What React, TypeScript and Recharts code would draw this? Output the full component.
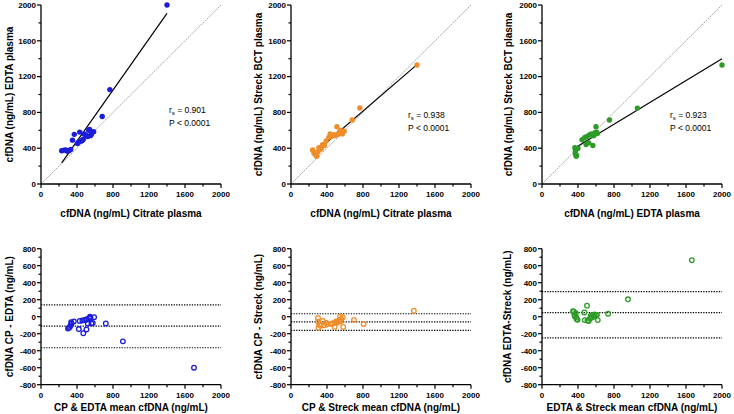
import React from 'react'
import { ScatterChart, Scatter, XAxis, YAxis, ReferenceLine } from 'recharts'

// top row: paired cfDNA concentrations (ng/mL)
const citrateVsEdta = [
  { x: 230, y: 372 }, { x: 255, y: 378 }, { x: 275, y: 380 }, { x: 295, y: 365 },
  { x: 310, y: 372 }, { x: 330, y: 385 }, { x: 350, y: 490 }, { x: 370, y: 555 },
  { x: 405, y: 452 }, { x: 420, y: 470 }, { x: 430, y: 580 }, { x: 450, y: 480 },
  { x: 460, y: 490 }, { x: 470, y: 500 }, { x: 480, y: 560 }, { x: 500, y: 545 },
  { x: 520, y: 530 }, { x: 530, y: 600 }, { x: 540, y: 610 }, { x: 550, y: 540 },
  { x: 560, y: 555 }, { x: 585, y: 585 }, { x: 680, y: 755 }, { x: 765, y: 1055 },
  { x: 1400, y: 2000 },
]
const citrateVsStreck = [
  { x: 240, y: 380 }, { x: 255, y: 345 }, { x: 270, y: 330 }, { x: 285, y: 310 },
  { x: 300, y: 360 }, { x: 310, y: 405 }, { x: 335, y: 390 }, { x: 350, y: 440 },
  { x: 370, y: 430 }, { x: 390, y: 480 }, { x: 420, y: 520 }, { x: 435, y: 560 },
  { x: 450, y: 530 }, { x: 470, y: 545 }, { x: 480, y: 550 }, { x: 490, y: 540 },
  { x: 510, y: 640 }, { x: 520, y: 555 }, { x: 535, y: 575 }, { x: 550, y: 600 },
  { x: 570, y: 560 }, { x: 590, y: 590 }, { x: 680, y: 715 }, { x: 765, y: 850 },
  { x: 1400, y: 1330 },
]
const edtaVsStreck = [
  { x: 365, y: 405 }, { x: 370, y: 360 }, { x: 372, y: 335 }, { x: 375, y: 385 },
  { x: 380, y: 310 }, { x: 385, y: 320 }, { x: 390, y: 395 }, { x: 400, y: 400 },
  { x: 445, y: 495 }, { x: 475, y: 520 }, { x: 490, y: 440 }, { x: 500, y: 530 },
  { x: 520, y: 460 }, { x: 530, y: 550 }, { x: 548, y: 560 }, { x: 560, y: 545 },
  { x: 565, y: 430 }, { x: 575, y: 540 }, { x: 585, y: 570 }, { x: 600, y: 640 },
  { x: 605, y: 580 }, { x: 615, y: 565 }, { x: 750, y: 715 }, { x: 1060, y: 848 },
  { x: 2000, y: 1330 },
]

// bottom row: Bland-Altman, mean vs difference
const baCpEdta = [
  { x: 300, y: -140 }, { x: 310, y: -130 }, { x: 320, y: -120 }, { x: 330, y: -100 },
  { x: 340, y: -80 }, { x: 335, y: -65 }, { x: 365, y: -55 }, { x: 420, y: -145 },
  { x: 430, y: -50 }, { x: 460, y: -45 }, { x: 470, y: -195 }, { x: 480, y: -40 },
  { x: 500, y: -35 }, { x: 505, y: -150 }, { x: 510, y: -30 }, { x: 520, y: -80 },
  { x: 535, y: -20 }, { x: 545, y: 0 }, { x: 550, y: -10 }, { x: 560, y: -80 },
  { x: 575, y: -75 }, { x: 590, y: -5 }, { x: 720, y: -80 }, { x: 910, y: -290 },
  { x: 1700, y: -600 },
]
const baCpStreck = [
  { x: 300, y: -15 }, { x: 300, y: -60 }, { x: 305, y: -130 }, { x: 315, y: -95 },
  { x: 330, y: -105 }, { x: 355, y: -50 }, { x: 370, y: -100 }, { x: 390, y: -70 },
  { x: 400, y: -90 }, { x: 445, y: -85 }, { x: 460, y: -80 }, { x: 480, y: -75 },
  { x: 485, y: -120 }, { x: 500, y: -55 }, { x: 510, y: -70 }, { x: 520, y: -60 },
  { x: 535, y: -45 }, { x: 545, y: 0 }, { x: 550, y: -55 }, { x: 560, y: -30 },
  { x: 575, y: -5 }, { x: 580, y: -120 }, { x: 700, y: -38 }, { x: 808, y: -85 },
  { x: 1365, y: 70 },
]
const baEdtaStreck = [
  { x: 345, y: 65 }, { x: 355, y: 60 }, { x: 360, y: 20 }, { x: 365, y: 5 },
  { x: 375, y: 40 }, { x: 380, y: -10 }, { x: 385, y: -30 }, { x: 395, y: -35 },
  { x: 470, y: 50 }, { x: 475, y: -40 }, { x: 500, y: 130 }, { x: 505, y: -45 },
  { x: 520, y: -50 }, { x: 535, y: -20 }, { x: 540, y: 10 }, { x: 550, y: -10 },
  { x: 560, y: 20 }, { x: 575, y: 0 }, { x: 585, y: 25 }, { x: 600, y: 20 },
  { x: 610, y: 20 }, { x: 620, y: -40 }, { x: 735, y: 35 }, { x: 955, y: 205 },
  { x: 1665, y: 665 },
]

// line of identity and fitted lines (end points)
const identity = [{ x: 0, y: 0 }, { x: 2000, y: 2000 }]
const fitCpEdta = [{ x: 230, y: 235 }, { x: 1400, y: 1907 }]
const fitCpStreck = [{ x: 240, y: 330 }, { x: 1390, y: 1325 }]
const fitEdtaStreck = [{ x: 360, y: 400 }, { x: 2000, y: 1400 }]

// bias and limits of agreement
const limitsCpEdta = [140, -112, -365]
const limitsCpStreck = [35, -62, -160]
const limitsEdtaStreck = [295, 47, -248]

const concTicks = [0, 200, 400, 600, 800, 1000, 1200, 1400, 1600, 1800, 2000]
const diffTicks = [-800, -700, -600, -500, -400, -300, -200, -100, 0, 100, 200, 300, 400, 500, 600, 700, 800]

const BLUE = '#1c1cdc'
const ORANGE = '#ef8d2b'
const GREEN = '#2c9c26'
const FONT = '"Liberation Sans", Arial, Helvetica, sans-serif'

function XTick(props: any) {
  const { x, y, payload, every } = props
  const major = payload.value % every === 0
  return (
    <g>
      <line x1={x} x2={x} y1={y} y2={y + (major ? 4 : 2.5)} stroke="#000" strokeWidth={1.2} />
      {major && (
        <text x={x} y={y + 12.8} textAnchor="middle" fontSize={8} fontWeight="bold" fill="#000" fontFamily={FONT}>
          {payload.value}
        </text>
      )}
    </g>
  )
}

function YTick(props: any) {
  const { x, y, payload, every } = props
  const major = payload.value % every === 0
  return (
    <g>
      <line x1={x} x2={x - (major ? 4 : 2.5)} y1={y} y2={y} stroke="#000" strokeWidth={1.2} />
      {major && (
        <text x={x - 5} y={y} dy="0.36em" textAnchor="end" fontSize={8} fontWeight="bold" fill="#000" fontFamily={FONT}>
          {payload.value}
        </text>
      )}
    </g>
  )
}

interface PanelProps {
  left: number
  top: number
  height: number
  marginTop: number
  xAxisHeight: number
  data: { x: number; y: number }[]
  color: string
  filled: boolean
  xTitle: string
  yTitle: string
  xTitleDy: number
  yTitleDx: number
  yDomain: [number, number]
  yTicks: number[]
  yEvery: number
  fit?: { x: number; y: number }[]
  limits?: number[]
  stats?: { r: string; dx: number; dy: number }
}

function Panel(p: PanelProps) {
  const width = 233
  const shape = (s: any) =>
    p.filled ? (
      <circle cx={s.cx} cy={s.cy} r={2.7} fill={p.color} />
    ) : (
      <circle cx={s.cx} cy={s.cy} r={2.3} fill="none" stroke={p.color} strokeWidth={1.3} />
    )

  return (
    <div style={{ position: 'absolute', left: p.left, top: p.top, width, height: p.height }}>
      <ScatterChart width={width} height={p.height} margin={{ top: p.marginTop, right: 12, bottom: 0, left: 0 }}>
        <XAxis
          type="number"
          dataKey="x"
          domain={[0, 2000]}
          ticks={concTicks}
          interval={0}
          height={p.xAxisHeight}
          tickSize={0}
          tickMargin={0}
          tickLine={false}
          axisLine={{ stroke: '#000', strokeWidth: 1.3 }}
          tick={(t: any) => <XTick {...t} every={400} />}
          label={(l: any) => {
            const vb = l.viewBox
            return (
              <text x={vb.x + vb.width / 2} y={vb.y + p.xTitleDy} textAnchor="middle" fontSize={10} fontWeight="bold" fill="#000" fontFamily={FONT}>
                {p.xTitle}
              </text>
            )
          }}
        />
        <YAxis
          type="number"
          dataKey="y"
          domain={p.yDomain}
          ticks={p.yTicks}
          interval={0}
          width={41}
          tickSize={0}
          tickMargin={0}
          tickLine={false}
          axisLine={{ stroke: '#000', strokeWidth: 1.3 }}
          tick={(t: any) => <YTick {...t} every={p.yEvery} />}
          label={(l: any) => {
            const vb = l.viewBox
            const cx = vb.x + vb.width + p.yTitleDx
            const cy = vb.y + vb.height / 2
            return (
              <text x={cx} y={cy} dy="0.36em" transform={`rotate(-90 ${cx} ${cy})`} textAnchor="middle" fontSize={10} fontWeight="bold" fill="#000" fontFamily={FONT}>
                {p.yTitle}
              </text>
            )
          }}
        />
        {p.fit && (
          <ReferenceLine
            segment={identity}
            stroke="#8a8a8a"
            strokeWidth={0.8}
            strokeDasharray="2 1"
          />
        )}
        {p.fit && <ReferenceLine segment={p.fit} stroke="#000" strokeWidth={1.2} />}
        {p.limits &&
          p.limits.map((v) => (
            <ReferenceLine key={v} y={v} stroke="#000" strokeWidth={1.2} strokeDasharray="1.3 1.3" />
          ))}
        <Scatter data={p.data} shape={shape} isAnimationActive={false} />
      </ScatterChart>
      {p.stats && (
        <svg
          width={width}
          height={p.height}
          style={{ position: 'absolute', left: 0, top: 0, pointerEvents: 'none' }}
        >
          <text x={41 + p.stats.dx} y={p.marginTop + p.stats.dy} fontSize={8.5} fill="#000" fontFamily={FONT}>
            <tspan>r</tspan>
            <tspan fontSize={6} dy={2}>s</tspan>
            <tspan dy={-2}>{` = ${p.stats.r}`}</tspan>
          </text>
          <text x={41 + p.stats.dx} y={p.marginTop + p.stats.dy + 13} fontSize={8.5} fill="#000" fontFamily={FONT}>
            P &lt; 0.0001
          </text>
        </svg>
      )}
    </div>
  )
}

export default function App() {
  const top = { top: 0, height: 222, marginTop: 5, xAxisHeight: 38, xTitleDy: 33, yDomain: [0, 2000] as [number, number], yTicks: concTicks, yEvery: 400, filled: true }
  const bottom = { top: 205, height: 209, marginTop: 43.7, xAxisHeight: 29.3, xTitleDy: 25.8, yDomain: [-800, 800] as [number, number], yTicks: diffTicks, yEvery: 200, filled: false }

  return (
    <div
      style={{
        position: 'absolute',
        left: 0,
        top: 0,
        width: 734,
        height: 414,
        background: '#fff',
        overflow: 'hidden',
        fontFamily: FONT,
      }}
    >
      <Panel {...top} left={0} data={citrateVsEdta} color={BLUE} xTitle="cfDNA (ng/mL) Citrate plasma" yTitle="cfDNA (ng/mL) EDTA plasma" yTitleDx={-32} fit={fitCpEdta} stats={{ r: '0.901', dx: 128, dy: 108 }} />
      <Panel {...top} left={250} data={citrateVsStreck} color={ORANGE} xTitle="cfDNA (ng/mL) Citrate plasma" yTitle="cfDNA (ng/mL) Streck BCT plasma" yTitleDx={-33} fit={fitCpStreck} stats={{ r: '0.938', dx: 117, dy: 113 }} />
      <Panel {...top} left={501} data={edtaVsStreck} color={GREEN} xTitle="cfDNA (ng/mL) EDTA plasma" yTitle="cfDNA (ng/mL) Streck BCT plasma" yTitleDx={-34} fit={fitEdtaStreck} stats={{ r: '0.923', dx: 128, dy: 113 }} />

      <Panel {...bottom} left={0} data={baCpEdta} color={BLUE} xTitle="CP & EDTA mean cfDNA (ng/mL)" yTitle="cfDNA CP - EDTA (ng/mL)" yTitleDx={-32} limits={limitsCpEdta} />
      <Panel {...bottom} left={250} data={baCpStreck} color={ORANGE} xTitle="CP & Streck mean cfDNA (ng/mL)" yTitle="cfDNA CP - Streck (ng/mL)" yTitleDx={-33} limits={limitsCpStreck} />
      <Panel {...bottom} left={501} data={baEdtaStreck} color={GREEN} xTitle="EDTA & Streck mean cfDNA (ng/mL)" yTitle="cfDNA EDTA-Streck (ng/mL)" yTitleDx={-35} limits={limitsEdtaStreck} />
    </div>
  )
}
